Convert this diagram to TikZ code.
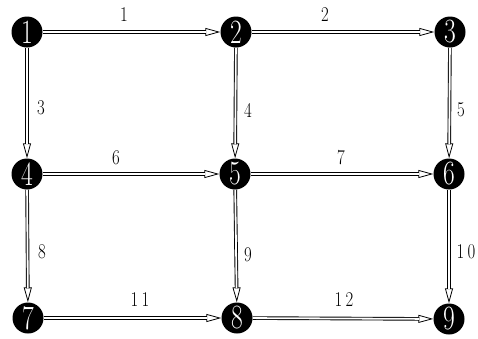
\documentclass[tikz,border=0pt]{standalone}
\usetikzlibrary{arrows.meta}
\begin{document}
\begin{tikzpicture}[x=1pt,y=-1pt,
  vert/.style={circle,fill=black,minimum size=31pt,inner sep=0pt,text=white,
    font=\fontsize{34}{34}\selectfont},
  tip/.style={line width=0.8pt,-{Triangle[open,length=15pt,width=8pt]}},
  dbl/.style={double=white,draw=black,line width=0.9pt,double distance=1.8pt,shorten >=14pt},
  lab/.style={font=\fontsize{21}{21}\selectfont}]
\useasboundingbox (0,0) rectangle (478,338);
\node[vert] (n1) at (27,32) {\scalebox{0.75}[1]{1}};
\node[vert] (n2) at (236,32) {\scalebox{0.75}[1]{2}};
\node[vert] (n3) at (450,32) {\scalebox{0.75}[1]{3}};
\node[vert] (n4) at (27,174) {\scalebox{0.75}[1]{4}};
\node[vert] (n5) at (235,174) {\scalebox{0.75}[1]{5}};
\node[vert] (n6) at (449,174) {\scalebox{0.75}[1]{6}};
\node[vert] (n7) at (28,318) {\scalebox{0.75}[1]{7}};
\node[vert] (n8) at (237,318) {\scalebox{0.75}[1]{8}};
\node[vert] (n9) at (449,319) {\scalebox{0.75}[1]{9}};
\foreach \a/\b in {n1/n2,n2/n3,n1/n4,n2/n5,n3/n6,n4/n5,n5/n6,n4/n7,n5/n8,n6/n9,n7/n8,n8/n9}{
  \draw[tip] (\a) -- (\b);
  \draw[dbl] (\a) -- (\b);
}
\node[lab] (l1) at (124,15) {\scalebox{0.8}[1]{1}};
\node[lab] (l2) at (325,15) {\scalebox{0.8}[1]{2}};
\node[lab] (l3) at (41,108) {\scalebox{0.8}[1]{3}};
\node[lab] (l4) at (248,110) {\scalebox{0.8}[1]{4}};
\node[lab] (l5) at (461,110) {\scalebox{0.8}[1]{5}};
\node[lab] (l6) at (116,158) {\scalebox{0.8}[1]{6}};
\node[lab] (l7) at (341,158) {\scalebox{0.8}[1]{7}};
\node[lab] (l8) at (42,252) {\scalebox{0.8}[1]{8}};
\node[lab] (l9) at (248,255) {\scalebox{0.8}[1]{9}};
\node[lab] (l10) at (466,252) {\scalebox{0.8}[1]{1\hspace{4pt}0}};
\node[lab] (l11) at (140,300) {\scalebox{0.8}[1]{1\hspace{4pt}1}};
\node[lab] (l12) at (344,300) {\scalebox{0.8}[1]{1\hspace{4pt}2}};
\end{tikzpicture}
\end{document}
